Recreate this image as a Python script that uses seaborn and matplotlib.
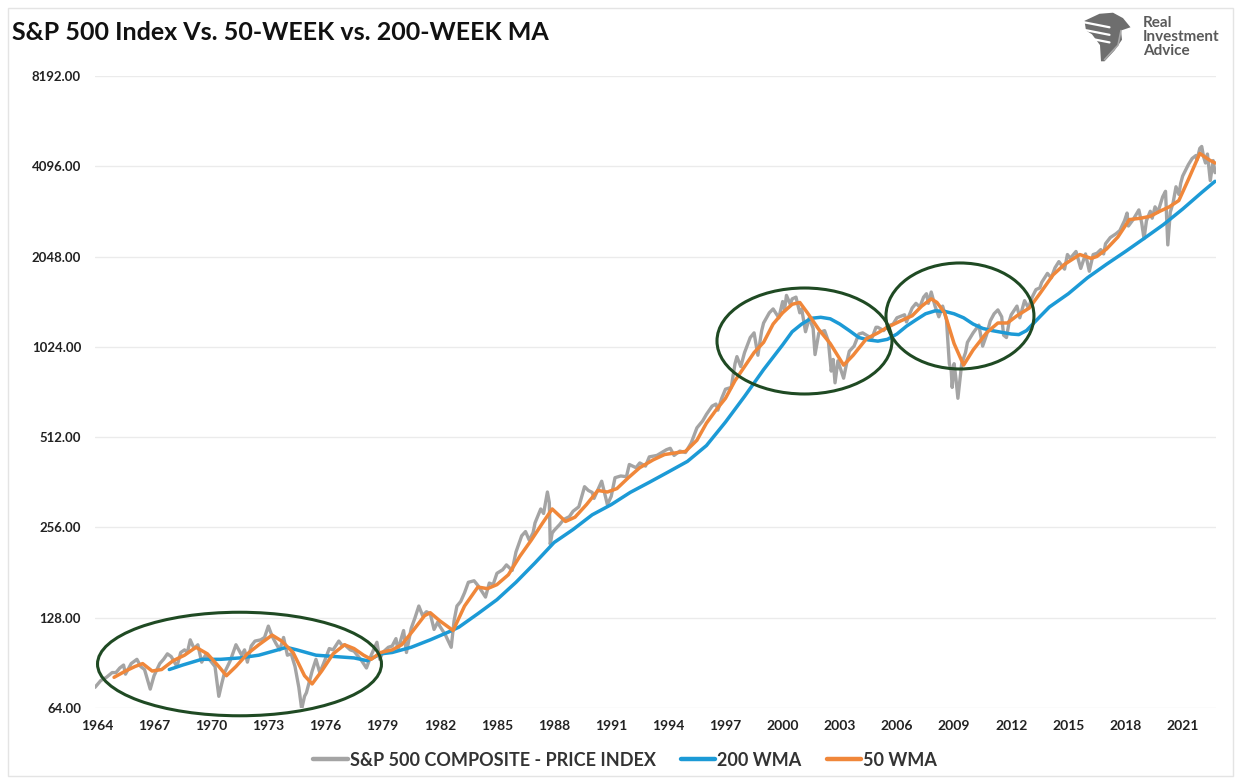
import numpy as np
import pandas as pd
import matplotlib
matplotlib.use('Agg')
import matplotlib.pyplot as plt
from matplotlib.patches import Ellipse, Polygon, Rectangle
from matplotlib.lines import Line2D
from matplotlib.ticker import FixedLocator, FuncFormatter, NullLocator
import seaborn as sns

# S&P 500 weekly close (decimal year, index level)
price_years = [1963.9, 1964.2, 1964.5, 1964.8, 1965.0, 1965.2, 1965.4, 1965.5, 1965.8, 1966.1,
               1966.3, 1966.5, 1966.8, 1967.0, 1967.3, 1967.5, 1967.7, 1967.9, 1968.2, 1968.4,
               1968.6, 1968.75, 1968.9, 1969.1, 1969.3, 1969.5, 1969.7, 1969.9, 1970.2, 1970.4,
               1970.55, 1970.7, 1971.0, 1971.3, 1971.6, 1971.75, 1971.9, 1972.1, 1972.3, 1972.6,
               1972.8, 1973.0, 1973.2, 1973.4, 1973.6, 1973.8, 1974.0, 1974.2, 1974.4, 1974.6,
               1974.75, 1974.9, 1975.0, 1975.3, 1975.5, 1975.7, 1975.9, 1976.2, 1976.4, 1976.7,
               1976.9, 1977.0, 1977.3, 1977.5, 1977.9, 1978.15, 1978.4, 1978.7, 1978.85, 1979.0,
               1979.3, 1979.5, 1979.7, 1979.8, 1980.1, 1980.25, 1980.5, 1980.7, 1980.9, 1981.1,
               1981.3, 1981.5, 1981.7, 1981.9, 1982.0, 1982.3, 1982.6, 1982.75, 1982.9, 1983.1,
               1983.3, 1983.5, 1983.8, 1984.0, 1984.2, 1984.4, 1984.6, 1984.8, 1985.0, 1985.3,
               1985.5, 1985.8, 1986.0, 1986.3, 1986.5, 1986.7, 1986.9, 1987.0, 1987.3, 1987.45,
               1987.65, 1987.75, 1987.8, 1987.9, 1988.0, 1988.3, 1988.5, 1988.8, 1989.0, 1989.3,
               1989.6, 1989.8, 1990.0, 1990.1, 1990.5, 1990.8, 1991.0, 1991.2, 1991.5, 1991.8,
               1991.95, 1992.3, 1992.5, 1992.8, 1993.0, 1993.4, 1993.9, 1994.1, 1994.3, 1994.6,
               1994.9, 1995.2, 1995.5, 1995.8, 1996.0, 1996.3, 1996.5, 1996.6, 1996.8, 1997.0,
               1997.3, 1997.5, 1997.6, 1997.8, 1998.0, 1998.3, 1998.5, 1998.7, 1998.9, 1999.0,
               1999.3, 1999.5, 1999.8, 2000.0, 2000.1, 2000.2, 2000.4, 2000.5, 2000.7, 2000.9,
               2001.0, 2001.2, 2001.4, 2001.6, 2001.7, 2001.9, 2002.2, 2002.4, 2002.55, 2002.65,
               2002.75, 2002.9, 2003.0, 2003.2, 2003.4, 2003.5, 2003.75, 2004.0, 2004.2, 2004.5,
               2004.7, 2004.9, 2005.0, 2005.3, 2005.5, 2005.8, 2006.0, 2006.4, 2006.5, 2006.8,
               2007.0, 2007.2, 2007.4, 2007.55, 2007.65, 2007.8, 2008.0, 2008.2, 2008.4, 2008.6,
               2008.75, 2008.85, 2008.9, 2009.0, 2009.1, 2009.2, 2009.4, 2009.6, 2009.7, 2010.0,
               2010.3, 2010.5, 2010.7, 2010.9, 2011.1, 2011.3, 2011.5, 2011.6, 2011.75, 2011.9,
               2012.0, 2012.3, 2012.45, 2012.7, 2012.9, 2013.1, 2013.3, 2013.5, 2013.6, 2013.9,
               2014.1, 2014.3, 2014.5, 2014.8, 2014.95, 2015.1, 2015.4, 2015.65, 2015.9, 2016.1,
               2016.3, 2016.5, 2016.7, 2016.85, 2016.95, 2017.2, 2017.5, 2017.7, 2017.95, 2018.08,
               2018.15, 2018.4, 2018.7, 2018.85, 2018.97, 2019.1, 2019.3, 2019.4, 2019.55, 2019.7,
               2019.95, 2020.1, 2020.22, 2020.35, 2020.5, 2020.65, 2020.8, 2020.9, 2021.0, 2021.3,
               2021.5, 2021.7, 2021.75, 2021.9, 2022.0, 2022.1, 2022.2, 2022.3, 2022.45, 2022.6,
               2022.7]
price_values = [75, 79, 81, 84, 84, 87, 89, 83, 90, 93,
                88, 86, 74, 82, 90, 93, 97, 95, 88, 98,
                100, 98, 108, 101, 104, 91, 96, 93, 88, 70,
                77, 84, 92, 104, 96, 100, 91, 103, 107, 108,
                110, 120, 111, 105, 100, 110, 96, 97, 88, 75,
                63.5, 70, 72, 85, 93, 84, 90, 101, 100, 107,
                103, 104, 100, 99, 92, 87, 96, 106, 93, 98,
                102, 103, 109, 100, 116, 98, 118, 128, 140, 130,
                134, 132, 117, 124, 120, 112, 102, 125, 140, 145,
                155, 168, 170, 164, 157, 150, 167, 165, 180, 185,
                192, 184, 212, 240, 248, 232, 246, 265, 295, 285,
                336, 310, 225, 245, 250, 262, 272, 278, 290, 300,
                350, 340, 335, 320, 365, 305, 325, 375, 380, 378,
                415, 405, 420, 410, 440, 445, 465, 470, 445, 460,
                455, 490, 550, 580, 610, 650, 660, 630, 690, 740,
                750, 900, 950, 880, 980, 1100, 1140, 960, 1160, 1230,
                1330, 1370, 1280, 1450, 1360, 1520, 1420, 1480, 1500, 1330,
                1370, 1150, 1280, 1180, 965, 1140, 1160, 1070, 850, 930,
                777, 920, 880, 805, 930, 990, 1030, 1130, 1140, 1110,
                1100, 1190, 1190, 1160, 1200, 1220, 1280, 1310, 1240, 1380,
                1430, 1390, 1500, 1540, 1430, 1560, 1400, 1290, 1400, 1260,
                900, 850, 750, 900, 800, 690, 900, 980, 1060, 1140,
                1210, 1030, 1120, 1250, 1320, 1360, 1290, 1120, 1100, 1250,
                1310, 1400, 1280, 1460, 1380, 1500, 1590, 1610, 1680, 1800,
                1740, 1880, 1970, 1860, 2080, 2020, 2130, 1870, 2090, 1830,
                2080, 2100, 2160, 2090, 2260, 2370, 2440, 2500, 2700, 2860,
                2590, 2720, 2930, 2650, 2350, 2700, 2900, 2750, 3000, 2880,
                3240, 3380, 2240, 2880, 3100, 3500, 3300, 3600, 3800, 4150,
                4350, 4450, 4300, 4700, 4770, 4400, 4200, 4500, 3670, 4280,
                3900]

# 200-week moving average
wma200_years = [1967.8, 1968.5, 1969.5, 1970.5, 1971.5, 1972.5, 1973.5, 1973.95, 1974.5, 1975.5,
                1976.5, 1977.5, 1978.2, 1978.9, 1979.5, 1980.5, 1981.5, 1982.5, 1983.0, 1984.0,
                1985.0, 1986.0, 1987.0, 1988.0, 1989.0, 1990.0, 1991.0, 1992.0, 1993.0, 1994.0,
                1995.0, 1996.0, 1997.0, 1998.0, 1999.0, 2000.0, 2000.5, 2001.0, 2001.5, 2002.0,
                2002.5, 2003.0, 2003.5, 2004.0, 2004.5, 2005.0, 2005.5, 2006.0, 2006.5, 2007.0,
                2007.5, 2008.0, 2008.5, 2009.0, 2009.5, 2010.0, 2010.5, 2011.0, 2011.5, 2012.0,
                2012.4, 2012.8, 2013.5, 2014.0, 2015.0, 2016.0, 2017.0, 2018.0, 2019.0, 2020.0,
                2021.0, 2022.0, 2022.7]
wma200_values = [86, 89, 93, 93, 94, 96, 100, 102, 100, 96,
                 95, 94, 92, 97, 98, 102, 108, 115, 119, 132,
                 147, 168, 195, 228, 252, 282, 305, 335, 362, 392,
                 425, 480, 575, 700, 860, 1040, 1150, 1220, 1275, 1285,
                 1270, 1220, 1160, 1100, 1080, 1070, 1085, 1130, 1200, 1260,
                 1320, 1350, 1345, 1320, 1280, 1220, 1180, 1160, 1145, 1130,
                 1125, 1160, 1290, 1390, 1540, 1740, 1930, 2130, 2360, 2620,
                 2950, 3350, 3650]

# 50-week moving average
wma50_years = [1964.9, 1965.5, 1966.0, 1966.4, 1966.9, 1967.4, 1968.0, 1968.6, 1969.2, 1969.8,
               1970.4, 1970.8, 1971.3, 1971.9, 1972.5, 1973.2, 1973.7, 1974.3, 1974.9, 1975.3,
               1975.8, 1976.4, 1977.0, 1977.5, 1978.0, 1978.4, 1978.9, 1979.5, 1980.0, 1980.6,
               1981.2, 1981.5, 1982.0, 1982.7, 1983.3, 1984.0, 1984.5, 1985.0, 1985.6, 1986.2,
               1986.8, 1987.4, 1987.9, 1988.6, 1989.1, 1989.7, 1990.3, 1990.8, 1991.3, 1991.9,
               1992.5, 1993.2, 1993.8, 1994.5, 1994.9, 1995.5, 1996.0, 1996.5, 1997.0, 1997.5,
               1998.0, 1998.5, 1999.0, 1999.5, 2000.0, 2000.5, 2000.9, 2001.3, 2001.9, 2002.5,
               2003.2, 2003.7, 2004.4, 2005.0, 2005.5, 2006.2, 2006.8, 2007.3, 2007.8, 2008.1,
               2008.5, 2009.0, 2009.5, 2010.0, 2010.7, 2011.3, 2011.8, 2012.3, 2012.95, 2013.5,
               2014.2, 2014.8, 2015.6, 2016.2, 2016.5, 2017.0, 2017.6, 2018.2, 2018.8, 2019.3,
               2019.8, 2020.3, 2020.8, 2021.3, 2021.9, 2022.4, 2022.7]
wma50_values = [81, 85, 88, 90, 85, 86, 92, 96, 102, 97,
                88, 82, 88, 97, 104, 112, 107, 98, 82, 77,
                85, 97, 104, 101, 96, 93, 98, 100, 104, 116,
                130, 133, 125, 116, 140, 162, 160, 165, 178, 205,
                232, 265, 295, 268, 277, 305, 340, 336, 345, 375,
                405, 430, 448, 455, 459, 500, 570, 630, 690, 790,
                880, 980, 1060, 1220, 1330, 1420, 1440, 1330, 1170, 1050,
                890, 960, 1090, 1140, 1190, 1250, 1300, 1400, 1480, 1440,
                1330, 1050, 890, 1000, 1140, 1230, 1230, 1300, 1380, 1540,
                1780, 1930, 2080, 2020, 2050, 2170, 2380, 2720, 2750, 2790,
                2900, 3000, 3150, 3700, 4520, 4300, 4200]

series_names = ['S&P 500 COMPOSITE - PRICE INDEX', '200 WMA', '50 WMA']
series_colors = ['#A4A4A4', '#1C9AD6', '#F0873A']
y_ticks = [64, 128, 256, 512, 1024, 2048, 4096, 8192]
x_ticks = list(range(1964, 2022, 3))

W, H = 1241, 780


def build_frame():
    """Stack the three series into one long table for seaborn"""
    parts = []
    for name, yrs, vals in zip(series_names,
                               [price_years, wma200_years, wma50_years],
                               [price_values, wma200_values, wma50_values]):
        parts.append(pd.DataFrame({'date': yrs, 'value': vals, 'series': name}))
    return pd.concat(parts, ignore_index=True)


def draw_logo(fig):
    """Rough gray eagle mark plus the company name, top right"""
    lax = fig.add_axes([1082 / W, 1 - 64 / H, 50 / W, 54 / H])
    lax.set_xlim(0, 1)
    lax.set_ylim(0, 1)
    lax.axis('off')
    head = [(0.05, 0.80), (0.35, 0.93), (0.62, 0.95), (0.82, 0.85), (0.97, 0.68),
            (0.78, 0.62), (0.80, 0.45), (0.65, 0.25), (0.45, 0.05), (0.38, 0.05),
            (0.36, 0.35), (0.20, 0.55), (0.08, 0.62)]
    lax.add_patch(Polygon(head, closed=True, fc='#6E6E6E', ec='none'))
    for y0 in [0.72, 0.58, 0.44]:
        lax.plot([0.0, 0.55], [y0 + 0.06, y0 - 0.04], color='white', lw=1.6)
    lax.plot([0.45, 0.72, 0.78], [0.08, 0.35, 0.62], color='#A8A8A8', lw=1.2)
    for txt, yp in zip(['Real', 'Investment', 'Advice'], [23, 37, 51]):
        fig.text(1143 / W, 1 - yp / H, txt, fontsize=11, fontweight='bold',
                 color='#5A5A5A', va='center', ha='left')


def main():
    df = build_frame()

    sns.set_theme(style='white')
    plt.rcParams['font.family'] = ['Lato', 'DejaVu Sans']

    fig = plt.figure(figsize=(W / 100, H / 100), dpi=100)
    ax = fig.add_axes([95 / W, 1 - 708 / H, (1216 - 95) / W, (708 - 76) / H])

    widths = [2.4, 2.5, 2.5]
    for name, color, lw in zip(series_names, series_colors, widths):
        sns.lineplot(data=df[df['series'] == name], x='date', y='value',
                     color=color, linewidth=lw, estimator=None, sort=False,
                     ax=ax, legend=False)

    ax.set_yscale('log', base=2)
    ax.set_ylim(64, 8192)
    ax.set_xlim(1963.9, 2022.75)
    ax.yaxis.set_major_locator(FixedLocator(y_ticks))
    ax.yaxis.set_minor_locator(NullLocator())
    ax.yaxis.set_major_formatter(FuncFormatter(lambda v, p: f'{v:.2f}'))
    ax.set_xticks(x_ticks)
    ax.set_xticklabels([str(t) for t in x_ticks])
    ax.set_xlabel('')
    ax.set_ylabel('')
    ax.grid(axis='y', color='#EBEBEB', linewidth=1)
    ax.grid(axis='x', visible=False)
    sns.despine(ax=ax, left=True, bottom=True)
    ax.tick_params(axis='y', length=0, pad=10, labelsize=9.5, labelcolor='#222222')
    ax.tick_params(axis='x', length=0, pad=9, labelsize=10, labelcolor='#222222')
    for lab in ax.get_xticklabels() + ax.get_yticklabels():
        lab.set_fontweight('bold')

    # green circles highlighting the sideways periods
    for cx, cy, w, h in [(0.1289, 0.0696, 0.2533, 0.1638),
                         (0.6329, 0.5807, 0.1561, 0.1677),
                         (0.7716, 0.6203, 0.1320, 0.1677)]:
        ax.add_patch(Ellipse((cx, cy), w, h, transform=ax.transAxes, fill=False,
                             ec='#1F4A23', lw=2.2, clip_on=False, zorder=5))

    fig.text(12 / W, 1 - 40 / H, 'S&P 500 Index Vs. 50-WEEK vs. 200-WEEK MA',
             fontsize=18, fontweight='bold', color='#111111', va='baseline', ha='left')

    handles = [Line2D([0], [0], color=c, lw=3.2) for c in series_colors]
    fig.legend(handles, series_names, loc='center', bbox_to_anchor=(625 / W, 1 - 760 / H),
               ncol=3, frameon=False, handlelength=1.9, handletextpad=0.1,
               columnspacing=1.4, prop={'weight': 'bold', 'size': 13})
    for t in fig.legends[0].get_texts():
        t.set_color('#333333')

    draw_logo(fig)

    fig.add_artist(Rectangle((8 / W, 4 / H), 1 - 16 / W, 1 - 12 / H, transform=fig.transFigure,
                             fill=False, ec='#E4E4E4', lw=1))

    fig.savefig('out.png', dpi=100)


if __name__ == "__main__":
    main()
